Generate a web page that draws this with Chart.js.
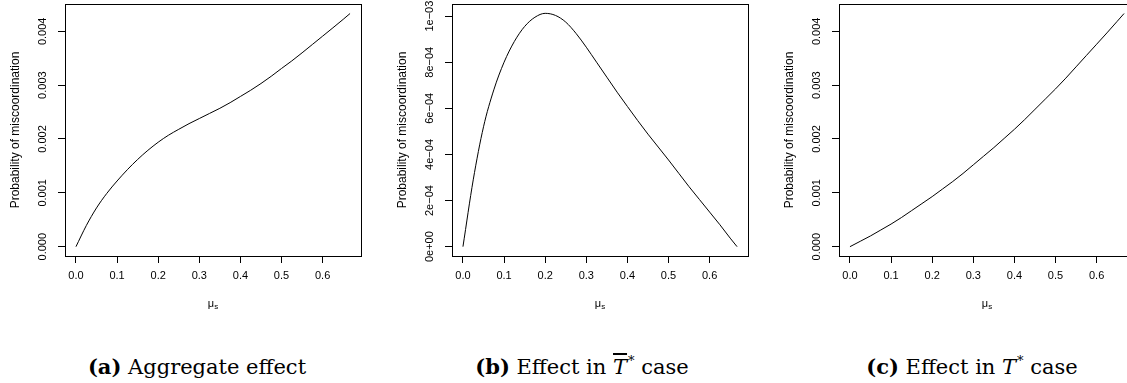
<!DOCTYPE html>
<html>
<head>
<meta charset="utf-8">
<script src="https://cdn.jsdelivr.net/npm/chart.js"></script>
<style>
  body { margin: 0; width: 1127px; height: 383px; overflow: hidden; background: #fff; position: relative; }
  canvas { position: absolute; top: 0; }
  .cap {
    position: absolute; top: 355px; line-height: 24px;
    font-family: "DejaVu Serif", "Liberation Serif", serif; font-size: 21px;
    white-space: nowrap; transform: translateX(-50%); color: #000;
  }
  .cap sup { font-size: 13px; vertical-align: baseline; position: relative; top: -9px; margin-left: 1px; }
  .ov { font-style: italic; text-decoration: overline; }
</style>
</head>
<body>
<canvas id="panelA" width="387" height="330" style="left:0px"></canvas>
<canvas id="panelB" width="387" height="330" style="left:387px"></canvas>
<canvas id="panelC" width="387" height="330" style="left:774px"></canvas>

<div class="cap" style="left:197px"><b>(a)</b> Aggregate effect</div>
<div class="cap" style="left:582px"><b>(b)</b> Effect in <span class="ov">T</span><sup>*</sup> case</div>
<div class="cap" style="left:972px"><b>(c)</b> Effect in <i>T</i><sup>*</sup> case</div>

<script>
// mu_s values along the x axis
const muS = [0, 0.025, 0.05, 0.075, 0.1, 0.125, 0.15, 0.175, 0.2, 0.225, 0.25, 0.275, 0.3, 0.325,
             0.35, 0.375, 0.4, 0.425, 0.45, 0.475, 0.5, 0.525, 0.55, 0.575, 0.6, 0.625, 0.65, 0.6667];

// probability of miscoordination
const aggregate = [0, 0.00039, 0.00072, 0.00099, 0.00122, 0.00143, 0.00162, 0.00179, 0.00194, 0.00207,
                   0.00218, 0.002285, 0.00238, 0.002475, 0.00257, 0.002675, 0.00279, 0.002905, 0.00303,
                   0.003165, 0.00331, 0.00345, 0.0036, 0.003755, 0.00391, 0.004065, 0.004222, 0.00433];
const tBarCase  = [0, 0.00029, 0.00052, 0.00068, 0.00080, 0.00089, 0.000955, 0.000995, 0.001012, 0.001003,
                   0.000974, 0.000925, 0.000865, 0.00080, 0.000735, 0.00067, 0.000608, 0.000547, 0.000488,
                   0.000432, 0.000376, 0.000318, 0.00026, 0.000205, 0.00015, 0.000095, 0.000037, 0];
const tCase     = [0, 0.00010, 0.00020, 0.00031, 0.00042, 0.00054, 0.00067, 0.00080, 0.00093, 0.00107,
                   0.00121, 0.00136, 0.00152, 0.00168, 0.00184, 0.00201, 0.00218, 0.00236, 0.00255,
                   0.00274, 0.00293, 0.00313, 0.00334, 0.00355, 0.00376, 0.00397, 0.004185, 0.00433];

const xTicks = [0, 0.1, 0.2, 0.3, 0.4, 0.5, 0.6];
const xTickLabels = ["0.0", "0.1", "0.2", "0.3", "0.4", "0.5", "0.6"];
const yTicksProb = [0, 0.001, 0.002, 0.003, 0.004];
const yLabelsProb = ["0.000", "0.001", "0.002", "0.003", "0.004"];
const yTicksSmall = [0, 0.0002, 0.0004, 0.0006, 0.0008, 0.001];
const yLabelsSmall = ["0e+00", "2e\u221204", "4e\u221204", "6e\u221204", "8e\u221204", "1e\u221203"];

const FONT = "'Liberation Sans', Arial, sans-serif";

// R-like frame, rotated y tick labels and the mu_s axis label
const rFrame = {
  id: 'rFrame',
  afterDraw(chart, args, opts) {
    const ctx = chart.ctx;
    const ca = chart.chartArea;
    ctx.save();
    ctx.strokeStyle = '#000';
    ctx.lineWidth = 1;
    ctx.strokeRect(Math.round(ca.left) + 0.5, Math.round(ca.top) + 0.5,
                   Math.round(ca.right - ca.left), Math.round(ca.bottom - ca.top));

    const ys = chart.scales.y;
    ctx.fillStyle = '#000';
    ctx.font = '11px ' + FONT;
    ctx.textAlign = 'center';
    ctx.textBaseline = 'middle';
    opts.ticks.forEach((v, i) => {
      ctx.save();
      ctx.translate(ca.left - 22, ys.getPixelForValue(v));
      ctx.rotate(-Math.PI / 2);
      ctx.fillText(opts.labels[i], 0, 0);
      ctx.restore();
    });

    // x axis title: mu with subscript s
    const cx = (ca.left + ca.right) / 2;
    ctx.textAlign = 'left';
    ctx.font = '11px ' + FONT;
    const wMu = ctx.measureText('\u03bc').width;
    ctx.font = '8px ' + FONT;
    const wS = ctx.measureText('s').width;
    const x0 = cx - (wMu + wS) / 2;
    ctx.font = '11px ' + FONT;
    ctx.fillText('\u03bc', x0, 304);
    ctx.font = '8px ' + FONT;
    ctx.fillText('s', x0 + wMu, 307);
    ctx.restore();
  }
};

function makePanel(id, values, yTicks, yLabels, yMin, yMax) {
  return new Chart(document.getElementById(id), {
    type: 'line',
    data: {
      datasets: [{
        data: muS.map((x, i) => ({ x: x, y: values[i] })),
        borderColor: '#000',
        borderWidth: 1,
        pointRadius: 0,
        fill: false,
        cubicInterpolationMode: 'monotone'
      }]
    },
    options: {
      responsive: false,
      animation: false,
      layout: { padding: { left: 0, top: 4, right: 26, bottom: 0 } },
      plugins: {
        legend: { display: false },
        tooltip: { enabled: false },
        rFrame: { ticks: yTicks, labels: yLabels }
      },
      scales: {
        x: {
          type: 'linear',
          min: -0.02667,
          max: 0.69333,
          afterBuildTicks: s => { s.ticks = xTicks.map(v => ({ value: v })); },
          afterFit: s => { s.height = 74; },
          border: { display: false },
          grid: { drawOnChartArea: false, drawTicks: true, tickLength: 7, color: '#000' },
          ticks: {
            padding: 6, color: '#000', maxRotation: 0, autoSkip: false,
            font: { family: FONT, size: 11 },
            callback: (v, i) => xTickLabels[i]
          }
        },
        y: {
          type: 'linear',
          min: yMin,
          max: yMax,
          afterBuildTicks: s => { s.ticks = yTicks.map(v => ({ value: v })); },
          afterFit: s => { s.width = 65; },
          border: { display: false },
          grid: { drawOnChartArea: false, drawTicks: true, tickLength: 7, color: '#000' },
          ticks: { display: false },
          title: {
            display: true,
            text: 'Probability of miscoordination',
            color: '#000',
            font: { family: FONT, size: 12 },
            padding: { top: 8, bottom: 0 }
          }
        }
      }
    },
    plugins: [rFrame]
  });
}

makePanel('panelA', aggregate, yTicksProb, yLabelsProb, -0.000173, 0.004507);
makePanel('panelB', tBarCase, yTicksSmall, yLabelsSmall, -0.0000405, 0.0010525);
makePanel('panelC', tCase, yTicksProb, yLabelsProb, -0.000173, 0.004507);
</script>
</body>
</html>
